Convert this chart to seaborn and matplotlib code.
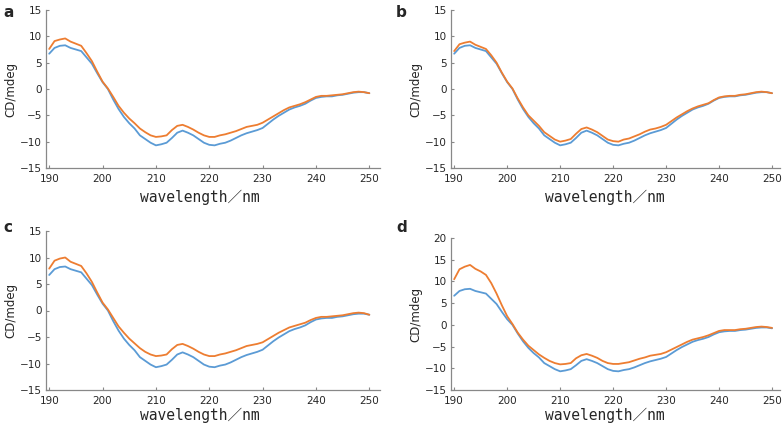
import numpy as np
import pandas as pd
import matplotlib
matplotlib.use("Agg")
import matplotlib.pyplot as plt
import seaborn as sns

wavelength = list(range(190, 251))

blue = [6.7, 7.8, 8.2, 8.3, 7.8, 7.5, 7.2, 6.0, 4.8, 3.0,
        1.3, 0.0, -2.0, -3.8, -5.3, -6.5, -7.5, -8.8, -9.5, -10.2,
        -10.7, -10.5, -10.2, -9.3, -8.3, -7.9, -8.3, -8.8, -9.5, -10.2,
        -10.6, -10.7, -10.4, -10.2, -9.8, -9.3, -8.8, -8.4, -8.1, -7.8,
        -7.4, -6.6, -5.8, -5.1, -4.5, -3.9, -3.5, -3.2, -2.8, -2.2,
        -1.7, -1.5, -1.4, -1.4, -1.2, -1.1, -0.9, -0.7, -0.6, -0.6, -0.8]

orange_a = [7.6, 9.1, 9.4, 9.6, 9.0, 8.6, 8.2, 6.8, 5.3, 3.3,
            1.4, 0.1, -1.5, -3.2, -4.5, -5.6, -6.5, -7.5, -8.2, -8.8,
            -9.1, -9.0, -8.8, -7.8, -7.0, -6.8, -7.2, -7.7, -8.3, -8.8,
            -9.1, -9.1, -8.8, -8.6, -8.3, -8.0, -7.6, -7.2, -7.0, -6.8,
            -6.4, -5.8, -5.2, -4.6, -4.0, -3.5, -3.2, -2.9, -2.5, -2.0,
            -1.5, -1.3, -1.3, -1.2, -1.1, -1.0, -0.8, -0.6, -0.5, -0.6, -0.8]

orange_b = [7.2, 8.5, 8.8, 9.0, 8.4, 8.0, 7.6, 6.4, 5.0, 3.1,
            1.4, 0.1, -1.8, -3.5, -5.0, -6.0, -7.0, -8.2, -8.9, -9.6,
            -10.0, -9.8, -9.5, -8.5, -7.6, -7.3, -7.7, -8.2, -8.9, -9.6,
            -9.9, -10.0, -9.6, -9.4, -9.0, -8.6, -8.1, -7.7, -7.5, -7.2,
            -6.8, -6.1, -5.4, -4.8, -4.2, -3.7, -3.3, -3.0, -2.7, -2.1,
            -1.6, -1.4, -1.3, -1.3, -1.1, -1.0, -0.8, -0.6, -0.5, -0.6, -0.8]

orange_c = [7.9, 9.4, 9.8, 10.0, 9.2, 8.8, 8.4, 7.0, 5.4, 3.4,
            1.5, 0.2, -1.4, -3.0, -4.2, -5.3, -6.2, -7.1, -7.8, -8.3,
            -8.6, -8.5, -8.3, -7.3, -6.5, -6.3, -6.7, -7.2, -7.8, -8.3,
            -8.6, -8.6, -8.3, -8.1, -7.8, -7.5, -7.1, -6.7, -6.5, -6.3,
            -6.0, -5.4, -4.8, -4.2, -3.7, -3.2, -2.9, -2.6, -2.3, -1.8,
            -1.4, -1.2, -1.2, -1.1, -1.0, -0.9, -0.7, -0.5, -0.4, -0.5, -0.8]

orange_d = [10.5, 12.8, 13.4, 13.8, 12.9, 12.3, 11.5, 9.6, 7.2, 4.5,
            2.0, 0.2, -1.8, -3.4, -4.8, -5.8, -6.8, -7.6, -8.3, -8.8,
            -9.1, -9.0, -8.8, -7.7, -7.0, -6.7, -7.1, -7.6, -8.3, -8.8,
            -9.0, -9.0, -8.8, -8.6, -8.2, -7.8, -7.5, -7.1, -6.9, -6.7,
            -6.3, -5.7, -5.1, -4.5, -3.9, -3.4, -3.1, -2.8, -2.4, -1.9,
            -1.4, -1.2, -1.2, -1.2, -1.0, -0.9, -0.7, -0.5, -0.4, -0.5, -0.7]

panel_labels = ["a", "b", "c", "d"]
oranges = [orange_a, orange_b, orange_c, orange_d]
y_ticks = [[-15, -10, -5, 0, 5, 10, 15]] * 3 + [[-15, -10, -5, 0, 5, 10, 15, 20]]
x_ticks = [190, 200, 210, 220, 230, 240, 250]

sns.set_style("white")
plt.rcParams['font.family'] = ['DejaVu Sans', 'Noto Sans CJK SC']

fig = plt.figure(figsize=(7.84, 4.26), dpi=100)
W, H = 784, 426
# pixel boxes: left, right, top, bottom
boxes = [(46, 380, 10, 168), (451, 780, 10, 168), (46, 380, 231, 390), (451, 780, 238, 390)]
xlims = [(189.4, 252.0), (189.4, 251.5), (189.4, 252.0), (189.4, 251.5)]
letter_pos = [(3, 5), (396, 5), (3, 220), (396, 220)]
# x-label centre in pixels
xlabel_px = [(200, 197), (605, 197), (200, 415), (605, 415)]

blue_c = "#5b9bd5"
orange_col = "#ed7d31"

for i in range(4):
    l, r, t, b = boxes[i]
    ax = fig.add_axes([l / W, 1 - b / H, (r - l) / W, (b - t) / H])
    df = pd.DataFrame({
        "wavelength": wavelength * 2,
        "cd": blue + oranges[i],
        "series": ["blue"] * len(blue) + ["orange"] * len(blue),
    })
    sns.lineplot(data=df, x="wavelength", y="cd", hue="series",
                 palette={"blue": blue_c, "orange": orange_col},
                 linewidth=1.3, legend=False, ax=ax)
    ax.set_xlim(*xlims[i])
    yt = y_ticks[i]
    ax.set_ylim(yt[0], yt[-1])
    ax.set_xticks(x_ticks)
    ax.set_yticks(yt)
    ax.tick_params(axis="both", labelsize=7.5, length=2, direction="in",
                   color="#888888", bottom=True, left=True)
    ax.tick_params(axis="x", pad=4)
    ax.tick_params(axis="y", pad=3)
    for s in ["top", "right"]:
        ax.spines[s].set_visible(False)
    for s in ["left", "bottom"]:
        ax.spines[s].set_color("#888888")
        ax.spines[s].set_linewidth(0.9)
    ax.set_xlabel("wavelength\uff0fnm", fontsize=10.5,
                  family=["DejaVu Sans Mono", "Noto Sans CJK SC"],
                  va="center")
    cx, cy = xlabel_px[i]
    ax.xaxis.set_label_coords((cx - l) / (r - l), -(cy - b) / (b - t))
    ax.set_ylabel("CD/mdeg", fontsize=8.5, labelpad=2)
    fig.text(letter_pos[i][0] / W, 1 - letter_pos[i][1] / H, panel_labels[i],
             fontsize=11, fontweight="bold", va="top", ha="left")

fig.savefig("out.png", dpi=100)
